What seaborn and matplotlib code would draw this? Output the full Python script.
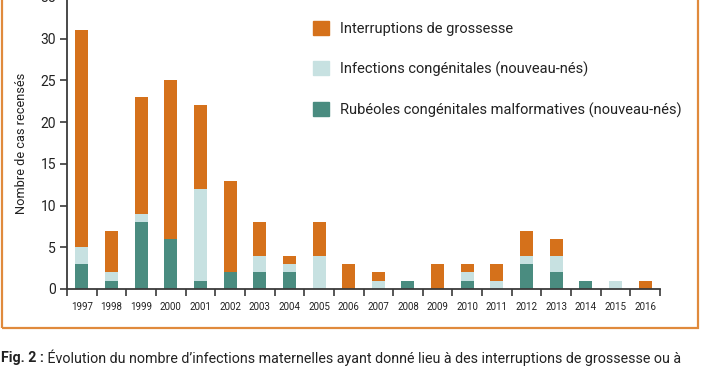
import matplotlib
matplotlib.use("Agg")
import matplotlib.pyplot as plt
import matplotlib.patches as mpatches
import numpy as np
import pandas as pd
import seaborn as sns

years = ["1997", "1998", "1999", "2000", "2001", "2002", "2003", "2004", "2005", "2006",
         "2007", "2008", "2009", "2010", "2011", "2012", "2013", "2014", "2015", "2016"]
rubeoles = [3, 1, 8, 6, 1, 2, 2, 2, 0, 0, 0, 1, 0, 1, 0, 3, 2, 1, 0, 0]
infections = [2, 1, 1, 0, 11, 0, 2, 1, 4, 0, 1, 0, 0, 1, 1, 1, 2, 0, 1, 0]
interruptions = [26, 5, 14, 19, 10, 11, 4, 1, 4, 3, 1, 0, 3, 1, 2, 3, 2, 0, 0, 1]

labels = ["Interruptions de grossesse",
          "Infections congénitales (nouveau-nés)",
          "Rubéoles congénitales malformatives (nouveau-nés)"]
yticks = [0, 5, 10, 15, 20, 25, 30, 35]

c_orange = "#D5711B"
c_light = "#C7E1E1"
c_teal = "#4A8C80"
c_border = "#E08A3C"
c_axis = "#3a3a3a"

df = pd.DataFrame({"year": years, "rub": rubeoles, "inf": infections, "int": interruptions})
df["lvl2"] = df["rub"] + df["inf"]
df["lvl3"] = df["lvl2"] + df["int"]

sns.set_theme(style="white")
plt.rcParams["font.family"] = ["Roboto", "DejaVu Sans"]

fig = plt.figure(figsize=(7.02, 3.70), dpi=100)
W, H = 702, 370
ax = fig.add_axes([67 / W, (H - 289) / H, (660 - 67) / W, 292 / H])

bw = 0.44
for col, c in (("lvl3", c_orange), ("lvl2", c_light), ("rub", c_teal)):
    sns.barplot(data=df, x="year", y=col, color=c, saturation=1, width=bw, ax=ax,
                order=years, linewidth=0, edgecolor="none")

ax.set_xlim(-0.5, len(years) - 0.5)
ax.set_ylim(0, 35)
ax.set_yticks(yticks)
ax.set_yticklabels([str(v) for v in yticks], fontsize=10, color="#222222")
ax.set_xticks(range(len(years)))
ax.set_xticklabels(years, fontsize=7, color="#222222")
ax.set_xticks(np.arange(-0.5, len(years), 1.0), minor=True)
ax.tick_params(axis="x", which="major", length=0, pad=9)
ax.tick_params(axis="x", which="minor", length=5, width=1.2, color=c_axis, direction="out", bottom=True)
ax.tick_params(axis="y", length=5, width=1.2, color=c_axis, direction="out", left=True, pad=3)
ax.set_xlabel("")
ax.set_ylabel("Nombre de cas recensés", fontsize=9.2, color="#222222", labelpad=9)

for s in ["top", "right"]:
    ax.spines[s].set_visible(False)
for s in ["left", "bottom"]:
    ax.spines[s].set_color(c_axis)
    ax.spines[s].set_linewidth(1.3)

handles = [mpatches.Patch(color=c) for c in (c_orange, c_light, c_teal)]
leg = ax.legend(handles, labels, loc="upper left", bbox_to_anchor=((307 - 67) / 593, (292 - 18) / 292),
                frameon=False, fontsize=10.5, handlelength=1.1, handleheight=1.1,
                labelspacing=1.75, handletextpad=0.75, borderaxespad=0)
for t in leg.get_texts():
    t.set_color("#222222")

# orange frame
rect = mpatches.Rectangle((2 / W, (H - 328) / H), (698 - 2) / W, 1.2, transform=fig.transFigure,
                          fill=False, edgecolor=c_border, linewidth=1.6, clip_on=False)
fig.patches.append(rect)

t1 = fig.text(1 / W, (H - 358) / H, "Fig. 2 :", fontsize=10.3, fontweight="bold", color="#222222",
              va="center", ha="left")
ax.annotate(" Évolution du nombre d’infections maternelles ayant donné lieu à des interruptions de grossesse ou à",
            xy=(1, 0.5), xycoords=t1, va="center", ha="left", fontsize=10.3, color="#222222",
            annotation_clip=False)

fig.savefig("out.png", dpi=100)
